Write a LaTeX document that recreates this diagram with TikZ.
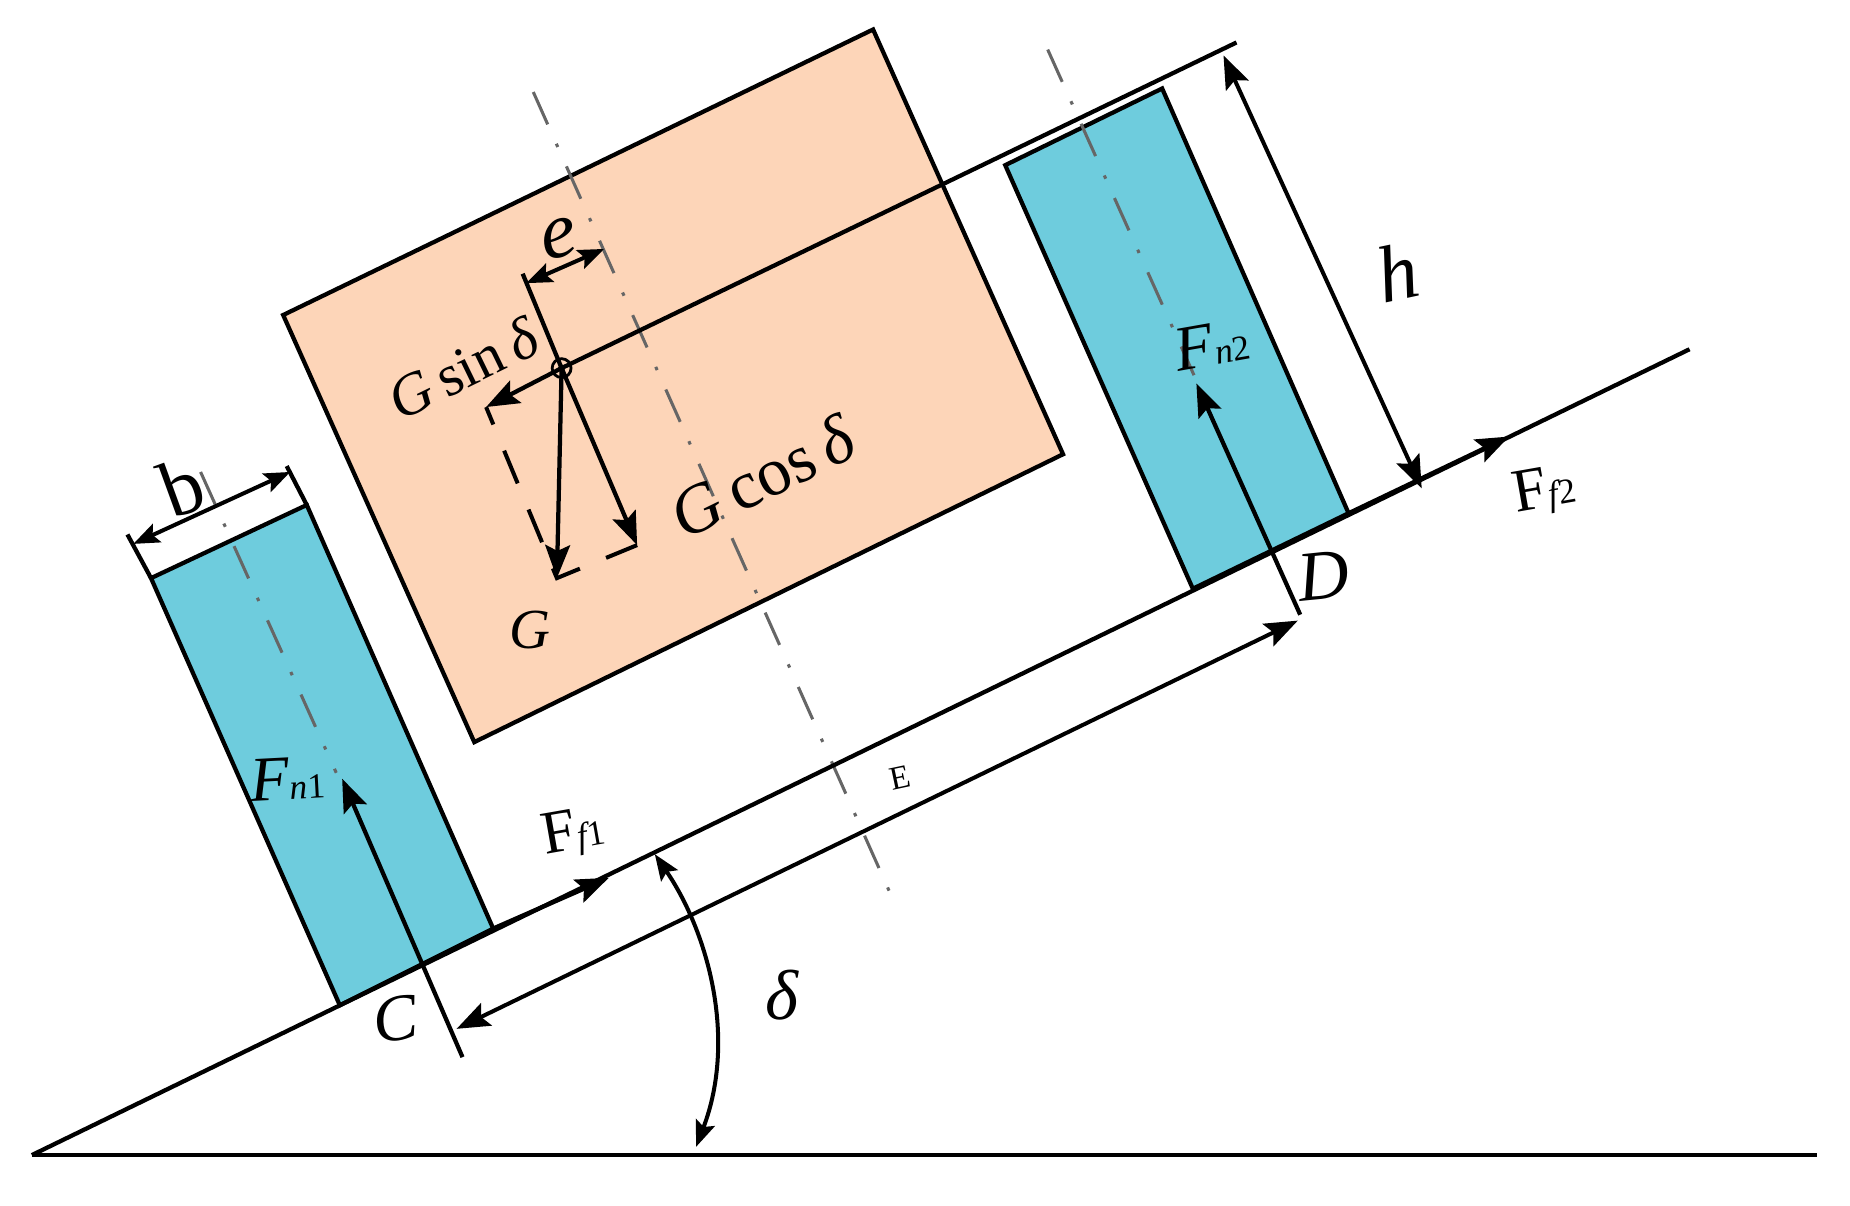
\documentclass[tikz,border=0pt]{standalone}
\usepackage{fontspec}
\setmainfont{Liberation Serif}
\usetikzlibrary{arrows.meta}
\newcommand{\tsz}[1]{\fontsize{#1}{#1}\selectfont}
\definecolor{bodyfill}{HTML}{FDD5B8}
\definecolor{wheelfill}{HTML}{6ECCDD}
\tikzset{
  bigtip/.tip={Stealth[length=14pt,width=10.5pt,inset=2.5pt]},
  smalltip/.tip={Stealth[length=11pt,width=8.5pt,inset=2pt]},
  outline/.style={draw=black,line width=1.8pt,line join=miter},
  heavy/.style={draw=black,line width=1.8pt},
  force/.style={draw=black,line width=1.8pt,-bigtip},
  dim/.style={draw=black,line width=1.7pt,bigtip-bigtip},
  smalldim/.style={draw=black,line width=1.7pt,smalltip-smalltip},
  center line/.style={draw=black!60,line width=1.3pt,dash pattern=on 15pt off 9pt on 1.5pt off 9pt},
  comp/.style={draw=black,line width=1.7pt,dash pattern=on 15pt off 12pt,dash phase=7pt},
  lbl/.style={inner sep=0pt,text=black},
}
\begin{document}
\begin{tikzpicture}[x=0.5pt,y=-0.5pt]
\useasboundingbox (0,0) rectangle (1568,1022);
% coordinates
\coordinate (A) at (27,979);
\coordinate (floorend) at (1540,979);
\coordinate (slopeend) at (1432,296);
\coordinate (O) at (476,312);
\coordinate (topend) at (1048,36);
\coordinate (L1) at (128,490); \coordinate (L2) at (260,428); \coordinate (L3) at (418,787); \coordinate (L4) at (288,852);
\coordinate (R1) at (852,140); \coordinate (R2) at (985,75); \coordinate (R3) at (1143,435); \coordinate (R4) at (1011,499);
\coordinate (B1) at (240,267); \coordinate (B2) at (740,25); \coordinate (B3) at (901,385); \coordinate (B4) at (402,629);
% fills
\path[outline,fill=bodyfill] (B1)--(B2)--(B3)--(B4)--cycle;
\path[outline,fill=wheelfill] (L1)--(L2)--(L3)--(L4)--cycle;
\path[outline,fill=wheelfill] (R1)--(R2)--(R3)--(R4)--cycle;
% centre lines
\coordinate (c1a) at (452,78); \coordinate (c1b) at (754,756);
\coordinate (c2a) at (170,400); \coordinate (c2b) at (285,655);
\coordinate (c3a) at (888,42); \coordinate (c3b) at (1012,318);
\draw[center line] (c1a)--(c1b);
\draw[center line] (c2a)--(c2b);
\draw[center line] (c3a)--(c3b);
% ground and slope
\draw[heavy] (A)--(floorend);
\draw[heavy] (A)--(slopeend);
\draw[heavy] (O)--(topend);
% friction arrows
\coordinate (f1tip) at (516,744);
\coordinate (f2tip) at (1279,370);
\draw[force] (L3)--(f1tip);
\draw[force] (R3)--(f2tip);
% normal forces and E extension
\coordinate (n1tip) at (290,660);
\coordinate (Cext) at (392,896);
\coordinate (n2tip) at (1014,325);
\coordinate (Dext) at (1102,521);
\draw[force] (Cext)--(n1tip);
\draw[force] (Dext)--(n2tip);
% E dimension
\coordinate (E1) at (387,872); \coordinate (E2) at (1100,526);
\draw[dim] (E1)--(E2);
% b dimension
\coordinate (b0) at (108,453); \coordinate (b3) at (243,395);
\coordinate (b1) at (113,461); \coordinate (b2) at (246,400);
\draw[heavy] (b0)--(L1);
\draw[heavy] (b3)--(L2);
\draw[smalldim] (b1)--(b2);
% h dimension
\coordinate (h1) at (1037,47); \coordinate (h2) at (1205,414);
\draw[dim] (h1)--(h2);
% e dimension
\coordinate (e0) at (443,232); \coordinate (e1) at (446,240); \coordinate (e2) at (512,211);
\draw[heavy] (e0)--(O);
\draw[smalldim] (e1)--(e2);
% force decomposition
\coordinate (Gs) at (412,345); \coordinate (Gv) at (472,490); \coordinate (Gc) at (540,462);
\draw[comp] (Gs)--(Gv)--(Gc);
\draw[force] (O)--(Gs);
\draw[force] (O)--(Gv);
\draw[force] (O)--(Gc);
\draw[black,line width=1.2pt] (O) circle (8);
\fill[black] (O) circle (3);
% angle
\coordinate (d1) at (555,724); \coordinate (d2) at (590,972);
\draw[smalldim] (d1) .. controls (600,790) and (625,880) .. (d2);
% labels
\node[lbl,rotate=26] (tGsin) at (392,312) {\tsz{25}\itshape G\,\upshape sin\,\itshape δ};
\node[lbl,rotate=26] (tGcos) at (646,404) {\tsz{29}\itshape G\,\upshape cos\,\itshape δ};
\node[lbl] (tG) at (449,534) {\tsz{24}\itshape G};
\node[lbl,rotate=12] (te) at (474,202) {\tsz{34}\itshape e};
\node[lbl,rotate=20] (tb) at (154,413) {\tsz{34}b};
\node[lbl,rotate=12] (th) at (1184,231) {\tsz{34}\itshape h};
\node[lbl,rotate=8] (tC) at (335,864) {\tsz{28}\itshape C};
\node[lbl,rotate=6] (tD) at (1122,488) {\tsz{30}\itshape D};
\node[lbl,rotate=12] (tE) at (763,659) {\tsz{14}E};
\node[lbl] (td) at (663,843) {\tsz{30}\itshape δ};
\node[lbl,rotate=3] (tFn1) at (244,660) {\tsz{27}\itshape F\tsz{15}n\upshape 1};
\node[lbl,rotate=10] (tFn2) at (1027,292) {\tsz{27}\itshape F\tsz{15}n\upshape 2};
\node[lbl,rotate=10] (tFf1) at (486,706) {\tsz{26}F\tsz{15}\itshape f\upshape 1};
\node[lbl,rotate=10] (tFf2) at (1309,416) {\tsz{26}F\tsz{15}\itshape f\upshape 2};
\end{tikzpicture}
\end{document}
